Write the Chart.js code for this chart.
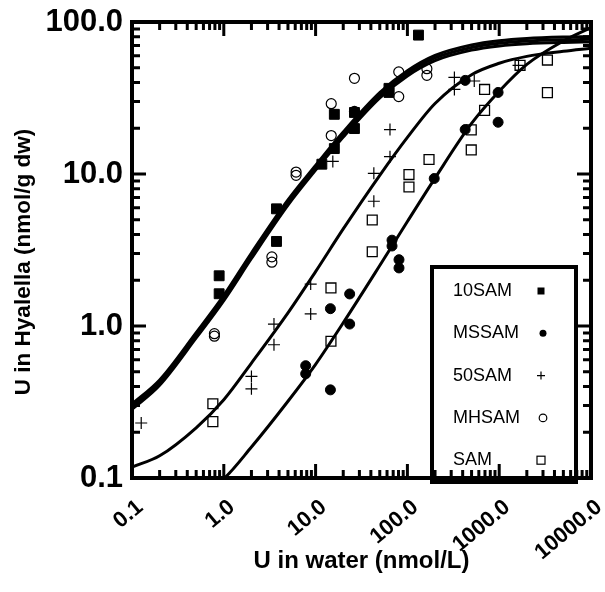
<!DOCTYPE html>
<html>
<head>
<meta charset="utf-8">
<script src="https://cdn.jsdelivr.net/npm/chart.js@4.4.0/dist/chart.umd.min.js"></script>
<style>
  html, body { margin: 0; padding: 0; background: #fff; }
</style>
</head>
<body>
<canvas id="myChart" width="605" height="592"></canvas>
<script>
// measured points: U in water (nmol/L) -> U in Hyalella (nmol/g dw)
var sam10X = [0.89, 0.89, 3.75, 3.75, 11.7, 16.0, 16.0, 26.5, 26.5, 63, 63, 132];
var sam10Y = [2.14, 1.63, 5.9, 3.6, 11.6, 24.7, 14.7, 25.4, 19.9, 36.6, 34.4, 82];

var mssamX = [7.8, 7.8, 14.5, 14.5, 23.5, 23.5, 68, 68, 81, 81, 196, 426, 426, 973, 973];
var mssamY = [0.548, 0.485, 1.30, 0.38, 1.625, 1.03, 3.67, 3.36, 2.73, 2.41, 9.34, 41.3, 19.6, 34.4, 21.9];

var sam50X = [0.126, 2.0, 2.0, 3.52, 3.52, 8.84, 8.84, 15.4, 43.1, 43.1, 64.6, 64.6, 325, 325, 535, 1624];
var sam50Y = [0.23, 0.466, 0.386, 1.03, 0.753, 1.886, 1.2, 12.1, 10.1, 6.62, 19.6, 13.0, 43.2, 36.0, 40.9, 51.9];

var mhsamX = [0.79, 0.79, 3.34, 3.34, 6.13, 6.13, 14.8, 14.8, 26.5, 26.5, 80.5, 80.5, 163, 163];
var mhsamY = [0.89, 0.857, 2.85, 2.63, 10.3, 9.8, 29.0, 17.9, 42.6, 25.8, 47.0, 32.3, 49.3, 44.6];

var samX = [0.76, 0.76, 14.7, 14.7, 41.4, 41.4, 104, 104, 172, 496, 496, 693, 693, 1687, 3352, 3352];
var samY = [0.308, 0.235, 1.78, 0.794, 4.98, 3.08, 9.92, 8.21, 12.46, 19.5, 14.4, 36.0, 26.2, 51.9, 56.2, 34.3];

// fitted curves
var fitX = [0.1, 0.2, 0.5, 1, 2, 5, 10, 20, 50, 100, 200, 500, 1000, 2000, 5000, 10000];
var fitA = [0.307, 0.442, 0.905, 1.59, 3.02, 6.76, 11.4, 18.9, 34.3, 47.8, 60.3, 70.7, 75.4, 78, 79.6, 80.1];
var fitB = [0.295, 0.425, 0.87, 1.53, 2.9, 6.5, 11.0, 18.2, 33, 46, 58, 68, 72.5, 75, 76.5, 77];
var fitC = [0.283, 0.408, 0.835, 1.47, 2.78, 6.24, 10.6, 17.5, 31.7, 44.2, 55.7, 65.3, 69.6, 72, 73.4, 73.9];
var fitD = [0.118, 0.14, 0.214, 0.327, 0.57, 1.22, 2.28, 4.35, 9.8, 17.4, 29.1, 45, 53.5, 59.4, 64.1, 67.1];
var fitEX = [0.5, 1, 2, 5, 10, 20, 50, 100, 200, 500, 1000, 2000, 5000, 10000];
var fitE = [0.075, 0.099, 0.16, 0.32, 0.56, 1.05, 2.5, 4.87, 9.4, 21.5, 35, 52.6, 75, 92];

var xTicks = [0.1, 1, 10, 100, 1000, 10000];
var xTickLabels = ['0.1', '1.0', '10.0', '100.0', '1000.0', '10000.0'];
var yTicks = [0.1, 1, 10, 100];
var yTickLabels = ['0.1', '1.0', '10.0', '100.0'];

var seriesLabels = ['10SAM', 'MSSAM', '50SAM', 'MHSAM', 'SAM'];
var yTitle = 'U in Hyalella (nmol/g dw)';

function pts(xs, ys) {
    return xs.map(function (x, i) { return {x: x, y: ys[i]}; });
}

function fitLine(xs, ys) {
    return {
        type: 'line',
        label: 'fit',
        data: pts(xs, ys),
        borderColor: '#000',
        borderWidth: 3,
        pointRadius: 0,
        fill: false,
        cubicInterpolationMode: 'monotone',
        order: 2
    };
}

function marks(label, xs, ys, style, radius, filled, width) {
    return {
        label: label,
        data: pts(xs, ys),
        pointStyle: style,
        pointRadius: radius,
        pointBorderColor: '#000',
        pointBackgroundColor: filled ? '#000' : 'rgba(0,0,0,0)',
        pointBorderWidth: width,
        order: 1
    };
}

var font = '"Liberation Sans", Arial, sans-serif';

// frame, inward ticks, slanted x labels, y title and the boxed key
var frameAndKey = {
    id: 'frameAndKey',
    afterDatasetsDraw: function (chart) {
        var ctx = chart.ctx;
        var a = chart.chartArea;
        var xs = chart.scales.x, ys = chart.scales.y;
        ctx.save();

        // key box background
        var kx = 432, ky = 267, kw = 144, kh = 215;
        ctx.fillStyle = '#fff';
        ctx.fillRect(kx, ky, kw, kh);

        ctx.strokeStyle = '#000';
        ctx.lineWidth = 3;
        var d, m, v, p, len;
        for (d = -1; d <= 3; d++) {
            for (m = 1; m <= 9; m++) {
                v = m * Math.pow(10, d);
                len = m === 1 ? 14 : 8;
                p = xs.getPixelForValue(v);
                ctx.beginPath();
                ctx.moveTo(p, a.bottom); ctx.lineTo(p, a.bottom - len);
                ctx.moveTo(p, a.top); ctx.lineTo(p, a.top + len);
                ctx.stroke();
                if (d <= 1) {
                    p = ys.getPixelForValue(v);
                    ctx.beginPath();
                    ctx.moveTo(a.left, p); ctx.lineTo(a.left + len, p);
                    ctx.moveTo(a.right, p); ctx.lineTo(a.right - len, p);
                    ctx.stroke();
                }
            }
        }

        ctx.lineWidth = 4;
        ctx.strokeRect(a.left, a.top, a.right - a.left, a.bottom - a.top);
        ctx.strokeRect(kx, ky, kw, kh);

        // key entries
        ctx.font = '18px ' + font;
        ctx.fillStyle = '#000';
        ctx.textBaseline = 'middle';
        ctx.textAlign = 'left';
        var mx = 541;
        seriesLabels.forEach(function (lab, i) {
            var cy = ky + 24 + i * 42.3;
            ctx.fillText(lab, kx + 21, cy);
            ctx.lineWidth = 1.2;
            ctx.beginPath();
            if (i === 0) {
                ctx.fillRect(mx - 3.5, cy - 3.5, 7, 7);
            } else if (i === 1) {
                ctx.arc(mx + 2, cy, 3.5, 0, Math.PI * 2);
                ctx.fill();
            } else if (i === 2) {
                ctx.moveTo(mx - 4, cy); ctx.lineTo(mx + 4, cy);
                ctx.moveTo(mx, cy - 4); ctx.lineTo(mx, cy + 4);
                ctx.stroke();
            } else if (i === 3) {
                ctx.arc(mx + 2, cy, 3.8, 0, Math.PI * 2);
                ctx.stroke();
            } else {
                ctx.strokeRect(mx - 4, cy - 4, 8, 8);
            }
        });

        // x tick labels, slanted 40 deg, right end just past the tick
        var th = 40 * Math.PI / 180;
        ctx.font = 'bold 22px ' + font;
        ctx.textAlign = 'right';
        ctx.textBaseline = 'alphabetic';
        xTicks.forEach(function (t, i) {
            ctx.save();
            ctx.translate(xs.getPixelForValue(t) + 12, 497 + 15.8 * Math.cos(th));
            ctx.rotate(-th);
            ctx.fillText(xTickLabels[i], 0, 0);
            ctx.restore();
        });

        // y axis title
        ctx.translate(24, 262);
        ctx.rotate(-Math.PI / 2);
        ctx.font = 'bold 22.5px ' + font;
        ctx.textAlign = 'center';
        ctx.textBaseline = 'middle';
        ctx.fillText(yTitle, 0, 0);
        ctx.restore();
    }
};

var ctx = document.getElementById('myChart');
var chart = new Chart(ctx, {
    type: 'scatter',
    data: {
        datasets: [
            fitLine(fitX, fitA),
            fitLine(fitX, fitB),
            fitLine(fitX, fitC),
            fitLine(fitX, fitD),
            fitLine(fitEX, fitE),
            marks(seriesLabels[0], sam10X, sam10Y, 'rect', 7, true, 1),
            marks(seriesLabels[1], mssamX, mssamY, 'circle', 5, true, 1),
            marks(seriesLabels[2], sam50X, sam50Y, 'cross', 6, false, 1.2),
            marks(seriesLabels[3], mhsamX, mhsamY, 'circle', 5, false, 1.2),
            marks(seriesLabels[4], samX, samY, 'rect', 7, false, 1.3)
        ]
    },
    options: {
        responsive: false,
        animation: false,
        devicePixelRatio: 1,
        layout: {
            padding: {top: 22, right: 14, left: 0, bottom: 0}
        },
        plugins: {
            legend: {display: false},
            tooltip: {enabled: false}
        },
        scales: {
            x: {
                type: 'logarithmic',
                min: 0.1,
                max: 10000,
                afterBuildTicks: function (scale) {
                    scale.ticks = xTicks.map(function (v) { return {value: v}; });
                },
                afterFit: function (scale) {
                    scale.height = 114;
                    scale.paddingLeft = 0;
                    scale.paddingRight = 0;
                },
                grid: {display: false, drawTicks: false},
                border: {display: false},
                ticks: {display: false},
                title: {
                    display: true,
                    text: 'U in water (nmol/L)',
                    color: '#000',
                    font: {family: font, size: 24, weight: 'bold'},
                    padding: {top: 0, bottom: 16}
                }
            },
            y: {
                type: 'logarithmic',
                min: 0.1,
                max: 100,
                afterBuildTicks: function (scale) {
                    scale.ticks = yTicks.map(function (v) { return {value: v}; });
                },
                afterFit: function (scale) {
                    scale.width = 132;
                    scale.paddingTop = 0;
                    scale.paddingBottom = 0;
                },
                grid: {display: false, drawTicks: false},
                border: {display: false},
                ticks: {
                    padding: 9,
                    color: '#000',
                    font: {family: font, size: 31, weight: 'bold'},
                    callback: function (v) {
                        var i = yTicks.indexOf(v);
                        return i >= 0 ? yTickLabels[i] : '';
                    }
                },
                title: {display: false}
            }
        }
    },
    plugins: [frameAndKey]
});
</script>
</body>
</html>
